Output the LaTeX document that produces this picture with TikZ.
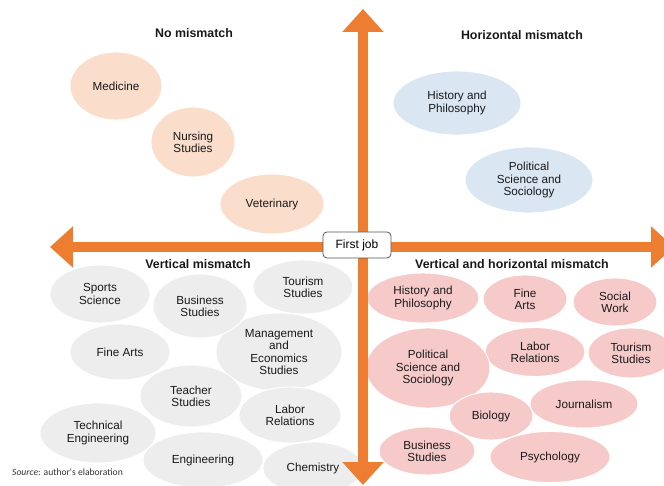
\documentclass[tikz,border=0pt]{standalone}
\usepackage{fontspec}
\setmainfont{Liberation Sans}
\newfontfamily\srcfont{Carlito}
\usetikzlibrary{shapes.geometric,arrows.meta}
\definecolor{arrorange}{HTML}{ED7D31}
\definecolor{peach}{HTML}{FADDCA}
\definecolor{lblue}{HTML}{DBE6F3}
\definecolor{lgrey}{HTML}{EDEDED}
\definecolor{lpink}{HTML}{F7CACA}
\definecolor{boxline}{HTML}{555555}
\tikzset{
  bubble/.style={ellipse, draw=white, line width=0.9pt, inner sep=0pt, align=center,
    font=\fontsize{11.7}{12.2}\selectfont, text=black!90},
  nomis/.style={bubble, fill=peach},
  hormis/.style={bubble, fill=lblue},
  vermis/.style={bubble, fill=lgrey},
  bothmis/.style={bubble, fill=lpink},
  qtitle/.style={font=\fontsize{12.4}{14}\selectfont\bfseries, text=black!90},
  axisarrow/.style={draw=arrorange, line width=9.5pt,
    -{Triangle[width=40pt,length=23pt]}},
}
\begin{document}
\begin{tikzpicture}[x=1pt,y=-1pt]
\useasboundingbox (0,0) rectangle (664,486);
\clip (0,0) rectangle (664,486);
% titles
\node[qtitle] (t1) at (194,33) {No mismatch};
\node[qtitle] (t2) at (522,35) {Horizontal mismatch};
\node[qtitle] (t3) at (198,264) {Vertical mismatch};
\node[qtitle] (t4) at (512,264) {Vertical and horizontal mismatch};
% no mismatch
\node[nomis, minimum width=92pt, minimum height=68pt] (med) at (116,86) {Medicine};
\node[nomis, minimum width=84pt, minimum height=70pt] (nur) at (193,142) {Nursing\\Studies};
\node[nomis, minimum width=104pt, minimum height=60pt] (vet) at (272,204) {Veterinary};
% horizontal mismatch
\node[hormis, minimum width=128pt, minimum height=64pt] (hhp) at (457,103) {History and\\Philosophy};
\node[hormis, minimum width=128pt, minimum height=66pt] (hps) at (529,180) {Political\\Science and\\Sociology};
% vertical mismatch
\node[vermis, minimum width=100pt, minimum height=58pt] (vsp) at (100,294) {Sports\\Science};
\node[vermis, minimum width=100pt, minimum height=54pt] (vto) at (303,287) {Tourism\\Studies};
\node[vermis, minimum width=100pt, minimum height=56pt] (vfa) at (120,352) {Fine Arts};
\node[vermis, minimum width=126pt, minimum height=78pt] (vme) at (279,352) {Management\\and\\Economics\\Studies};
\node[vermis, minimum width=94pt, minimum height=64pt] (vbs) at (200,306) {Business\\Studies};
\node[vermis, minimum width=102pt, minimum height=56pt] (vlr) at (290,415) {Labor\\Relations};
\node[vermis, minimum width=102pt, minimum height=62pt] (vts) at (191,396) {Teacher\\Studies};
\node[vermis, minimum width=116pt, minimum height=60pt] (vte) at (98,433) {Technical\\Engineering};
\node[vermis, minimum width=100pt, minimum height=52pt] (vch) at (313,468) {Chemistry};
\node[vermis, minimum width=120pt, minimum height=56pt] (ven) at (203,460) {Engineering};
% vertical and horizontal mismatch
\node[bothmis, minimum width=112pt, minimum height=50pt] (bhp) at (423,298) {History and\\Philosophy};
\node[bothmis, minimum width=84pt, minimum height=48pt] (bfa) at (525,299) {Fine\\Arts};
\node[bothmis, minimum width=84pt, minimum height=48pt] (bsw) at (615,302) {Social\\Work};
\node[bothmis, minimum width=100pt, minimum height=49pt] (blr) at (535,352) {Labor\\Relations};
\node[bothmis, minimum width=86pt, minimum height=50pt] (bto) at (631,353) {Tourism\\Studies};
\node[bothmis, minimum width=108pt, minimum height=48pt] (bjo) at (584,404) {Journalism};
\node[bothmis, minimum width=124pt, minimum height=80pt] (bps) at (428,368) {Political\\Science and\\Sociology};
\node[bothmis, minimum width=84pt, minimum height=48pt] (bbi) at (491,416) {Biology};
\node[bothmis, minimum width=96pt, minimum height=48pt] (bbs) at (427,451) {Business\\Studies};
\node[bothmis, minimum width=120pt, minimum height=51pt] (bpy) at (550,457) {Psychology};
% source
\node[anchor=west, inner sep=0pt, font=\srcfont\fontsize{9.6}{11}\selectfont, text=black!80] (src) at (12,472) {\textit{Source}: author's elaboration};
% axes
\coordinate (ctr) at (363,247);
\coordinate (atop) at (363,9);
\coordinate (abot) at (363,485);
\coordinate (aleft) at (50,247);
\coordinate (aright) at (674,247);
\draw[axisarrow] (ctr) -- (atop);
\draw[axisarrow] (ctr) -- (abot);
\draw[axisarrow] (ctr) -- (aleft);
\draw[axisarrow] (ctr) -- (aright);
\node[draw=boxline, fill=white, rounded corners=4pt, line width=0.8pt, minimum width=68pt, minimum height=26pt, inner sep=0pt, font=\fontsize{12}{14}\selectfont] (fj) at (357,245) {First job};
\end{tikzpicture}
\end{document}
